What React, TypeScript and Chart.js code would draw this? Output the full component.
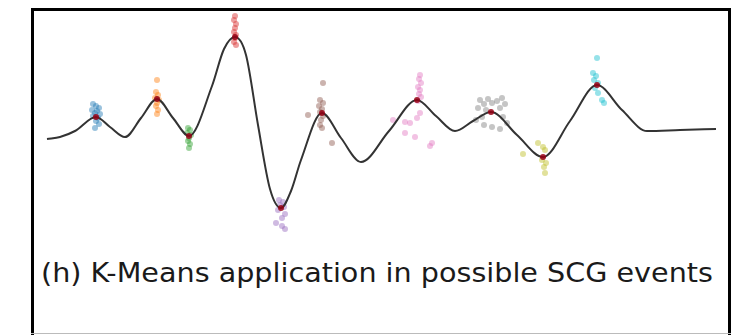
import React, { useEffect, useRef } from "react";
import { Chart, registerables } from "chart.js";

Chart.register(...registerables);

// Signal curve (x: sample, y: amplitude)
const curveX = [0, 13, 28, 49, 63, 78, 94, 110, 126, 142, 165, 177, 188, 199, 211, 223, 234, 244, 254, 275, 294, 314, 342, 370, 389, 408, 426, 444, 470, 496, 523, 550, 575, 600, 633, 669];
const curveY = [-0.10, -0.08, -0.02, 0.12, 0.02, -0.08, 0.11, 0.30, 0.11, -0.07, 0.43, 0.80, 0.92, 0.74, 0.04, -0.60, -0.79, -0.62, -0.31, 0.16, -0.09, -0.33, -0.02, 0.29, 0.13, -0.02, 0.08, 0.17, -0.06, -0.28, 0.08, 0.44, 0.19, -0.02, -0.01, 0.00];

// K-Means clusters
const clusterColors = ["#1f77b4", "#ff7f0e", "#2ca02c", "#d62728", "#9467bd", "#8c564b", "#e377c2", "#7f7f7f", "#bcbd22", "#17becf"];
const c0x = [46, 49, 52, 45, 50, 48, 53, 46, 51, 49, 52, 48];
const c0y = [0.25, 0.23, 0.21, 0.19, 0.18, 0.16, 0.15, 0.13, 0.11, 0.08, 0.05, 0.01];
const c1x = [110, 109, 111, 108, 112, 110, 109, 111, 110];
const c1y = [0.49, 0.37, 0.34, 0.31, 0.29, 0.26, 0.23, 0.19, 0.15];
const c2x = [141, 143, 140, 144, 142, 141, 143, 142];
const c2y = [0.01, -0.01, -0.04, -0.06, -0.09, -0.12, -0.15, -0.19];
const c3x = [188, 187, 189, 188, 187, 189, 188, 187, 189];
const c3y = [1.13, 1.09, 1.05, 1.01, 0.97, 0.94, 0.91, 0.87, 0.84];
const c4x = [232, 236, 233, 237, 231, 238, 235, 229, 235, 238];
const c4y = [-0.71, -0.73, -0.76, -0.78, -0.81, -0.85, -0.89, -0.94, -0.97, -1.00];
const c5x = [276, 261, 285, 273, 276, 272, 275, 273, 276, 274, 273, 275];
const c5y = [0.46, 0.14, -0.14, 0.29, 0.26, 0.23, 0.20, 0.17, 0.13, 0.09, 0.04, 0.01];
const c6x = [373, 372, 374, 371, 373, 372, 374, 371, 346, 358, 363, 370, 358, 368, 385, 383, 373];
const c6y = [0.54, 0.50, 0.46, 0.42, 0.39, 0.35, 0.32, 0.28, 0.09, 0.07, 0.06, 0.11, -0.04, -0.08, -0.14, -0.17, 0.16];
const c7x = [433, 437, 441, 445, 450, 455, 458, 431, 439, 453, 435, 429, 456, 437, 445, 453, 460];
const c7y = [0.29, 0.25, 0.30, 0.26, 0.28, 0.31, 0.25, 0.21, 0.19, 0.21, 0.12, 0.09, 0.12, 0.04, 0.02, 0.00, 0.06];
const c8x = [491, 496, 498, 476, 495, 499, 497, 498];
const c8y = [-0.14, -0.18, -0.21, -0.25, -0.31, -0.34, -0.38, -0.44];
const c9x = [550, 546, 549, 547, 551, 548, 551, 555, 557];
const c9y = [0.71, 0.56, 0.53, 0.49, 0.46, 0.41, 0.36, 0.29, 0.26];
const clustersX = [c0x, c1x, c2x, c3x, c4x, c5x, c6x, c7x, c8x, c9x];
const clustersY = [c0y, c1y, c2y, c3y, c4y, c5y, c6y, c7y, c8y, c9y];

// Centroids
const centroidX = [49, 110, 142, 188, 234, 275, 370, 444, 496, 550];
const centroidY = [0.12, 0.30, -0.07, 0.92, -0.79, 0.16, 0.29, 0.17, -0.28, 0.44];

const caption = "(h) K-Means application in possible SCG events";

function hexA(hex: string, a: number) {
  const n = parseInt(hex.slice(1), 16);
  return `rgba(${(n >> 16) & 255},${(n >> 8) & 255},${n & 255},${a})`;
}

export default function App() {
  const ref = useRef<HTMLCanvasElement | null>(null);
  useEffect(() => {
    if (!ref.current) return;
    const datasets: any[] = [];
    clustersX.forEach((xs, i) => {
      datasets.push({
        type: "scatter",
        data: xs.map((x, j) => ({ x, y: clustersY[i][j] })),
        backgroundColor: hexA(clusterColors[i], 0.45),
        borderWidth: 0,
        pointRadius: 3,
        order: 3,
      });
    });
    datasets.push({
      type: "line",
      data: curveX.map((x, i) => ({ x, y: curveY[i] })),
      borderColor: "#333333",
      borderWidth: 2,
      pointRadius: 0,
      cubicInterpolationMode: "monotone",
      fill: false,
      order: 2,
    });
    datasets.push({
      type: "scatter",
      data: centroidX.map((x, i) => ({ x, y: centroidY[i] })),
      backgroundColor: "rgba(150,0,20,0.85)",
      borderWidth: 0,
      pointRadius: 3,
      order: 1,
    });
    const chart = new Chart(ref.current, {
      type: "scatter",
      data: { datasets },
      options: {
        animation: false,
        responsive: false,
        maintainAspectRatio: false,
        layout: { padding: 0 },
        plugins: { legend: { display: false }, tooltip: { enabled: false }, title: { display: false } },
        scales: {
          x: { type: "linear", min: -14, max: 682, display: false },
          y: { type: "linear", min: -1.07, max: 1.18, display: false },
        },
      },
    });
    return () => chart.destroy();
  }, []);

  return (
    <div style={{ position: "absolute", left: 0, top: 0, width: 738, height: 335, background: "#fff", overflow: "hidden" }}>
      <div style={{ position: "absolute", left: 31, top: 8, width: 694, height: 330, borderTop: "3px solid #000", borderLeft: "3px solid #000", borderRight: "3px solid #000" }} />
      <div style={{ position: "absolute", left: 31, top: 333, width: 700, height: 1, background: "#bbb" }} />
      <canvas ref={ref} width={704} height={233} style={{ position: "absolute", left: 29, top: 7, width: 704, height: 233 }} />
      <div style={{ position: "absolute", left: 41, top: 259, fontFamily: "'DejaVu Sans', sans-serif", fontSize: 27, lineHeight: "27px", color: "#1a1a1a", whiteSpace: "nowrap", transform: "scaleX(1.06)", transformOrigin: "left top" }}>{caption}</div>
    </div>
  );
}
